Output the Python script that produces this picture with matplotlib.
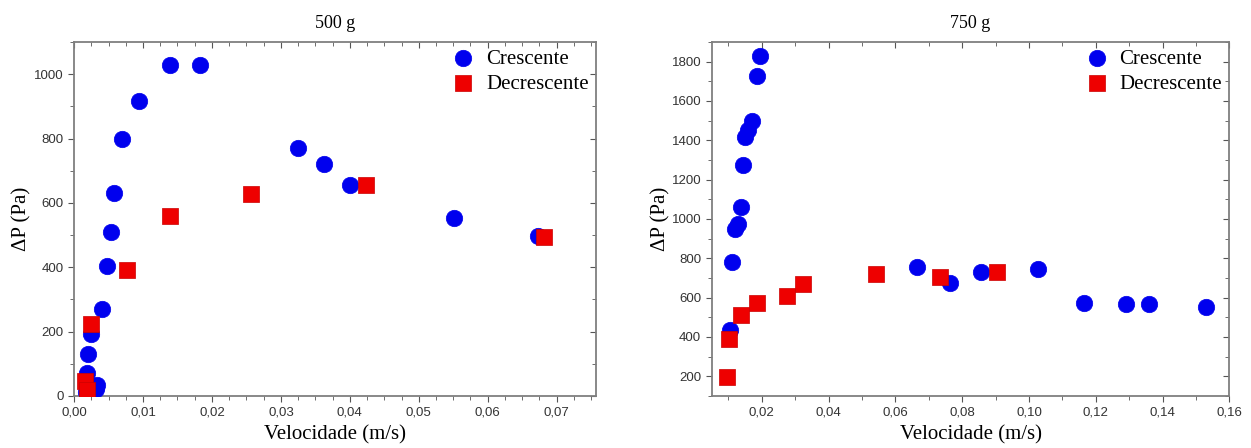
#!/usr/bin/env python3

import matplotlib
matplotlib.use("Agg")
import matplotlib.pyplot as plt
from matplotlib.ticker import MultipleLocator, FuncFormatter

# 500 g
v500_cres = [0.0139, 0.0183, 0.00947, 0.00696, 0.00575, 0.00532, 0.00483, 0.00406,
             0.00242, 0.00198, 0.00193, 0.0033, 0.0032, 0.0018,
             0.0325, 0.0362, 0.0400, 0.0551, 0.0673]
p500_cres = [1030, 1030, 918, 800, 631, 509, 404, 270,
             193, 130, 70, 34, 21, 12,
             772, 720, 657, 552, 498]
v500_decr = [0.0139, 0.0256, 0.0424, 0.0682, 0.00763, 0.00242, 0.0016, 0.0019]
p500_decr = [560, 629, 657, 493, 390, 224, 47, 19]

# 750 g
v750_cres = [0.0195, 0.0185, 0.0170, 0.0160, 0.0150, 0.0145, 0.0137, 0.0130, 0.0120,
             0.0112, 0.0105, 0.0665, 0.0763, 0.0857, 0.1028, 0.1166, 0.129, 0.136, 0.153]
p750_cres = [1829, 1729, 1498, 1452, 1415, 1276, 1060, 977, 947,
             782, 434, 758, 672, 728, 746, 573, 570, 566, 553]
v750_decr = [0.0097, 0.0103, 0.0137, 0.0185, 0.0275, 0.0322, 0.0543, 0.0735, 0.0905]
p750_decr = [196, 392, 514, 575, 609, 668, 718, 705, 728]

SERIF = "Liberation Serif"
SANS = "Liberation Sans"
BLUE = "#0000ee"
RED = "#ee0000"


def comma(fmt):
    return FuncFormatter(lambda v, pos: (fmt % v).replace(".", ","))


def style_axes(ax, xmaj, xmin, ymaj, ymin, xfmt):
    for s in ax.spines.values():
        s.set_color("#7f7f7f")
        s.set_linewidth(1.3)
    ax.xaxis.set_major_locator(MultipleLocator(xmaj))
    ax.xaxis.set_minor_locator(MultipleLocator(xmin))
    ax.yaxis.set_major_locator(MultipleLocator(ymaj))
    ax.yaxis.set_minor_locator(MultipleLocator(ymin))
    ax.xaxis.set_major_formatter(comma(xfmt))
    ax.tick_params(which="both", direction="out", color="#555555",
                   labelsize=9.5, labelcolor="#333333")
    ax.tick_params(which="major", length=4)
    ax.tick_params(which="minor", length=3)
    for lab in ax.get_xticklabels() + ax.get_yticklabels():
        lab.set_fontfamily(SANS)
    # inward ticks on top and right, Statistica style
    top = ax.secondary_xaxis("top")
    top.xaxis.set_major_locator(MultipleLocator(xmaj))
    top.xaxis.set_minor_locator(MultipleLocator(xmin))
    top.tick_params(which="both", direction="in", labeltop=False, color="#555555")
    top.tick_params(which="major", length=4)
    top.tick_params(which="minor", length=3)
    top.spines["top"].set_visible(False)
    right = ax.secondary_yaxis("right")
    right.yaxis.set_major_locator(MultipleLocator(ymaj))
    right.yaxis.set_minor_locator(MultipleLocator(ymin))
    right.tick_params(which="both", direction="in", labelright=False, color="#555555")
    right.tick_params(which="major", length=4)
    right.tick_params(which="minor", length=3)
    right.spines["right"].set_visible(False)


def panel(ax, vc, pc, vd, pd_, title, ypad):
    ax.scatter(vc, pc, s=140, marker="o", color=BLUE, edgecolor=BLUE,
               linewidth=0.5, label="Crescente", zorder=3)
    ax.scatter(vd, pd_, s=130, marker="s", color=RED, edgecolor="#cc0000",
               linewidth=0.5, label="Decrescente", zorder=4)
    ax.set_title(title, fontfamily=SERIF, fontsize=13, pad=10)
    ax.set_xlabel("Velocidade (m/s)", fontfamily=SERIF, fontsize=15, labelpad=5)
    ax.set_ylabel("ΔP (Pa)", fontfamily=SERIF, fontsize=15, labelpad=ypad)
    ax.legend(loc="upper right", frameon=False, prop={"family": SERIF, "size": 15},
              handletextpad=0.1, borderaxespad=0.0, labelspacing=0.25,
              borderpad=0.35, markerscale=1.0)


fig = plt.figure(figsize=(12.51, 4.48), dpi=100)
ax1 = fig.add_axes([0.0592, 0.1161, 0.4172, 0.7902])
ax2 = fig.add_axes([0.5689, 0.1161, 0.4138, 0.7902])

panel(ax1, v500_cres, p500_cres, v500_decr, p500_decr, "500 g", 2)
ax1.set_xlim(0, 0.0757)
ax1.set_ylim(0, 1100)
style_axes(ax1, 0.01, 0.0025, 200, 100, "%.2f")

panel(ax2, v750_cres, p750_cres, v750_decr, p750_decr, "750 g", 1)
ax2.set_xlim(0.005, 0.16)
ax2.set_ylim(100, 1900)
style_axes(ax2, 0.02, 0.01, 200, 100, "%.2f")

fig.savefig("out.png", dpi=100)
